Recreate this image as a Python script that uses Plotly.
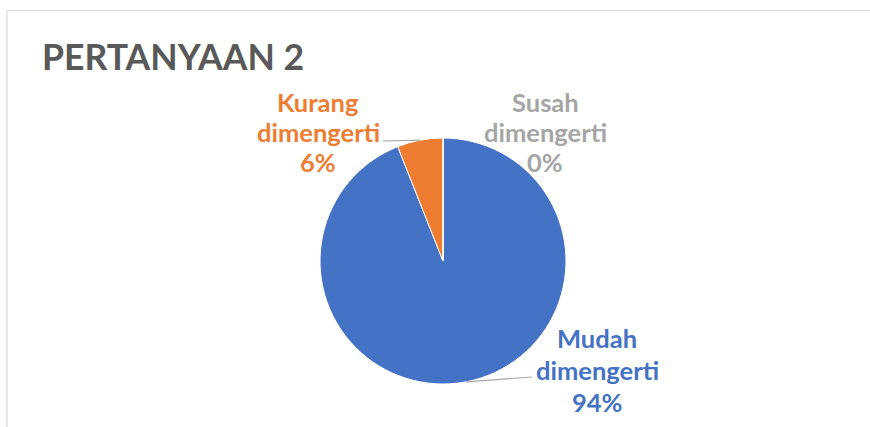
import math
import plotly.graph_objects as go

# Survey answers for question 2
categories = ["Mudah dimengerti", "Kurang dimengerti", "Susah dimengerti"]
values = [94, 6, 0]
colors = ["#4472C4", "#ED7D31", "#A5A5A5"]
title_text = "PERTANYAAN 2"

W, H = 870, 427
cx, cy, r = 443, 261, 123          # pie centre / radius in pixels
FONT = "Lato"


def px(x):
    return x / W


def py(y):
    return 1 - y / H


fig = go.Figure(
    go.Pie(
        labels=categories,
        values=values,
        sort=False,
        direction="clockwise",
        rotation=0,
        marker=dict(colors=colors, line=dict(color="white", width=1)),
        textinfo="none",
        hoverinfo="label+percent",
        showlegend=False,
        domain=dict(x=[px(cx - r), px(cx + r)], y=[py(cy + r), py(cy - r)]),
    )
)

# label blocks: (centre x, first-line y, line gap) and where the leader line starts
label_pos = {
    "Mudah dimengerti": (597, 338, 32),
    "Kurang dimengerti": (318, 102, 30),
    "Susah dimengerti": (545, 102, 30),
}
leader_start = {
    "Mudah dimengerti": (532, 377),
    "Kurang dimengerti": (383, 141),
}

total = sum(values)
cum = 0
shapes = []
annotations = []
for cat, val, col in zip(categories, values, colors):
    pct = round(100 * val / total)
    lines = cat.split(" ") + [f"{pct}%"]
    lx, ly, gap = label_pos[cat]
    for i, t in enumerate(lines):
        annotations.append(dict(
            x=px(lx), y=py(ly + i * gap), xref="paper", yref="paper",
            text=t, showarrow=False, xanchor="center", yanchor="middle",
            font=dict(family=FONT, size=25.5, color=col, weight=700),
        ))
    # leader line to the middle of the slice edge
    theta = 2 * math.pi * (cum + val / 2) / total
    if cat in leader_start:
        ex = cx + r * math.sin(theta)
        ey = cy - r * math.cos(theta)
        sx, sy = leader_start[cat]
        shapes.append(dict(
            type="line", xref="paper", yref="paper",
            x0=px(sx), y0=py(sy), x1=px(ex), y1=py(ey),
            line=dict(color="#A6A6A6", width=1.2),
        ))
    cum += val

# chart area frame
shapes.append(dict(
    type="rect", xref="paper", yref="paper",
    x0=px(7), y0=-0.2, x1=1.2, y1=py(10.5),
    line=dict(color="#D9D9D9", width=1.2), fillcolor="rgba(0,0,0,0)", layer="below",
))

annotations.append(dict(
    x=px(40), y=py(56), xref="paper", yref="paper",
    text=title_text, showarrow=False, xanchor="left", yanchor="middle",
    font=dict(family=FONT, size=35.6, color="#595959", weight=700),
))

fig.update_layout(
    width=W, height=H,
    margin=dict(l=0, r=0, t=0, b=0),
    paper_bgcolor="white",
    plot_bgcolor="white",
    shapes=shapes,
    annotations=annotations,
)

fig.write_html("out.html")
